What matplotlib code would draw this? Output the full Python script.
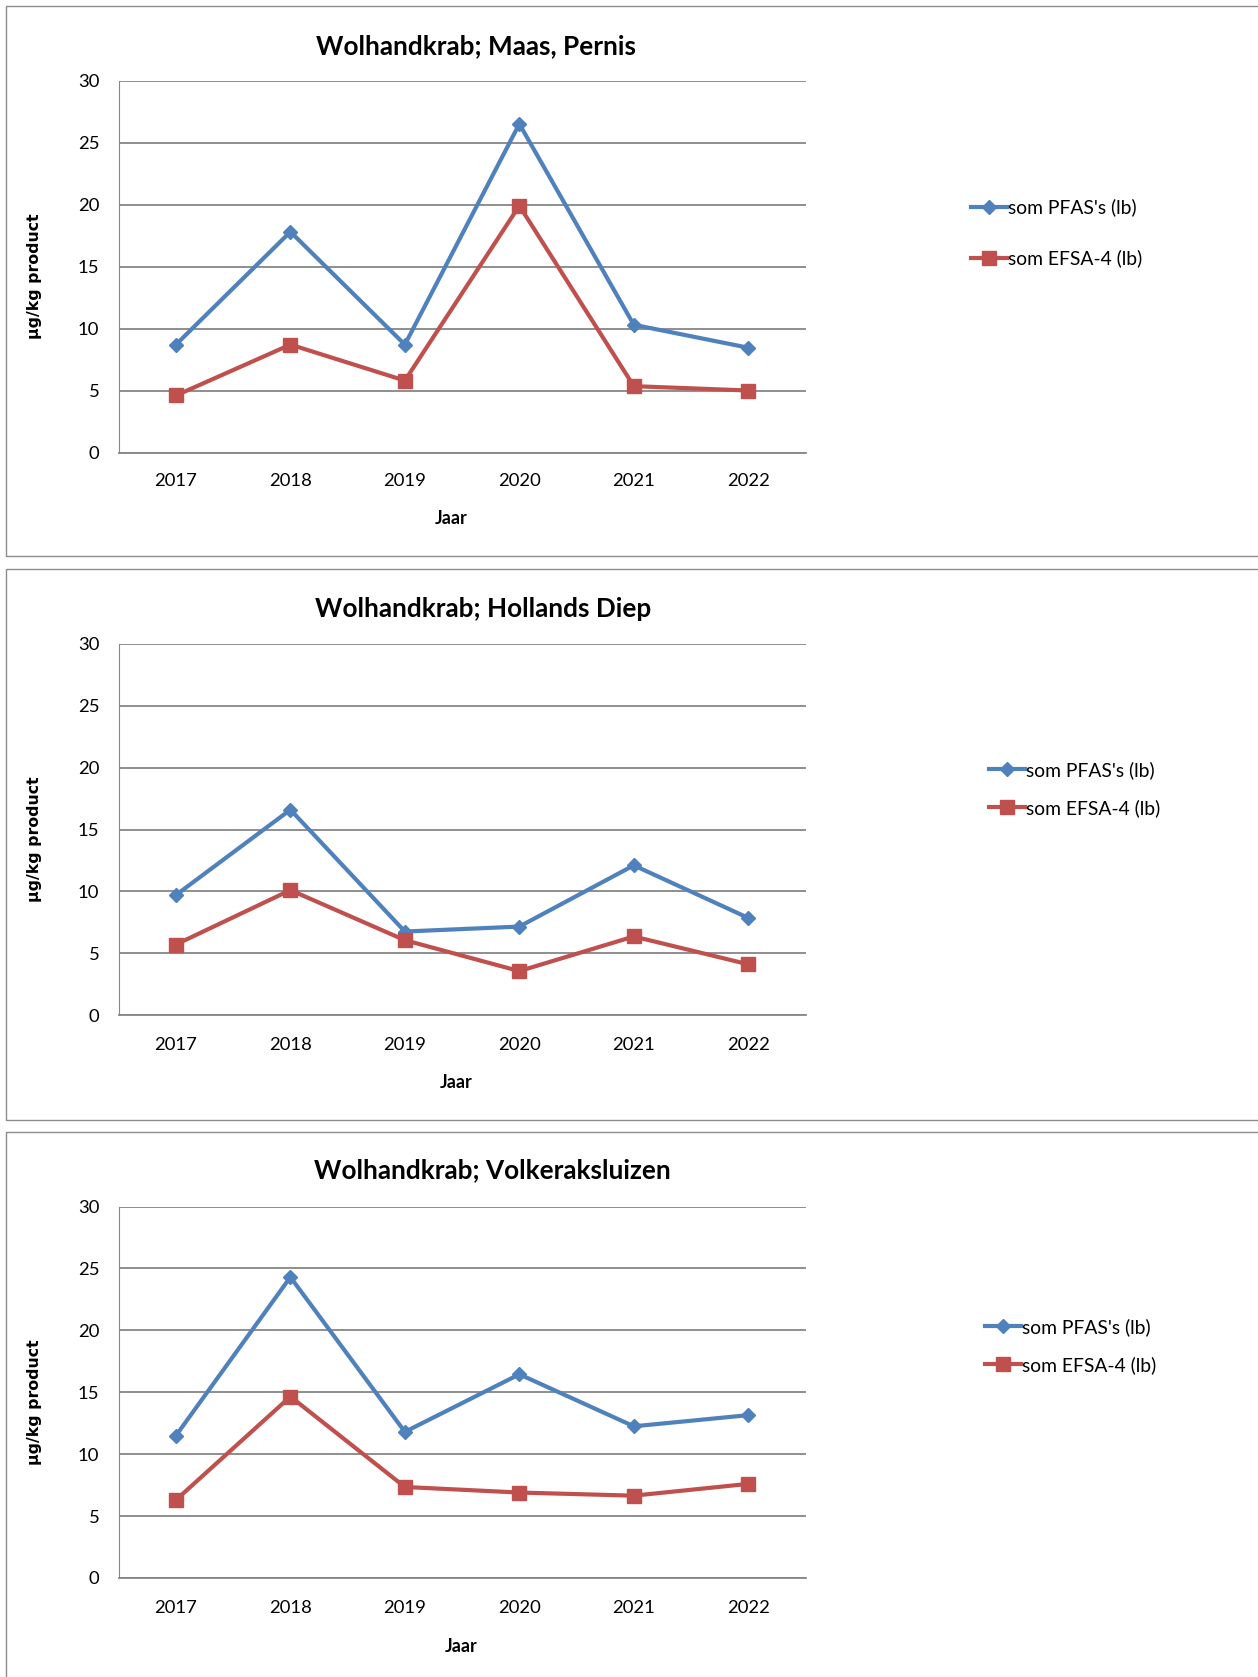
import matplotlib
matplotlib.use("Agg")
import matplotlib.pyplot as plt
from matplotlib.patches import Rectangle

# --- data --- #
years = ["2017", "2018", "2019", "2020", "2021", "2022"]

titles = ["Wolhandkrab; Maas, Pernis",
          "Wolhandkrab; Hollands Diep",
          "Wolhandkrab; Volkeraksluizen"]

pfas_pernis = [8.7, 17.8, 8.7, 26.5, 10.3, 8.45]
efsa_pernis = [4.6, 8.7, 5.8, 19.9, 5.35, 5.0]

pfas_hdiep = [9.7, 16.6, 6.75, 7.15, 12.1, 7.85]
efsa_hdiep = [5.7, 10.1, 6.05, 3.55, 6.35, 4.1]

pfas_volk = [11.5, 24.3, 11.8, 16.45, 12.25, 13.15]
efsa_volk = [6.3, 14.65, 7.35, 6.9, 6.65, 7.6]

series = [(pfas_pernis, efsa_pernis), (pfas_hdiep, efsa_hdiep), (pfas_volk, efsa_volk)]
labels = ["som PFAS's (lb)", "som EFSA-4 (lb)"]

BLUE = "#4F81BD"
RED = "#C0504D"
GRID = "#868686"

W, H = 1258, 1677
fig = plt.figure(figsize=(W / 100, H / 100), dpi=100)
fig.patch.set_facecolor("white")

# panel layout in pixels
panels = [
    dict(box=(6, 556), plot=(80.5, 452.5), title_y=46, title_x=476, tick_y=479, jaar=(451, 518),
         leg=(961, 233), spacing=1.7),
    dict(box=(569, 1120), plot=(644, 1015), title_y=609, title_x=483, tick_y=1042, jaar=(456, 1082),
         leg=(979, 789), spacing=1.05),
    dict(box=(1132, 1690), plot=(1206.5, 1578), title_y=1170, title_x=492, tick_y=1605, jaar=(461, 1647),
         leg=(975, 1346), spacing=1.05),
]

left, right = 118.7, 805.5

for p, title, (pfas, efsa) in zip(panels, titles, series):
    # outer panel border
    b0, b1 = p["box"]
    fig.patches.append(Rectangle((6 / W, 1 - b1 / H), 1.2, (b1 - b0) / H, transform=fig.transFigure,
                                 fill=False, edgecolor="#8c8c8c", linewidth=1.0, zorder=0))

    top, bot = p["plot"]
    ax = fig.add_axes([left / W, 1 - bot / H, (right - left) / W, (bot - top) / H])
    x = list(range(len(years)))
    ax.plot(x, pfas, color=BLUE, lw=3.0, marker="D", ms=7.5, label=labels[0], clip_on=False, zorder=3)
    ax.plot(x, efsa, color=RED, lw=3.0, marker="s", ms=9.5, label=labels[1], clip_on=False, zorder=3)

    ax.set_xlim(-0.5, 5.5)
    ax.set_ylim(0, 30)
    ax.set_yticks(range(0, 31, 5))
    ax.set_xticks(x)
    ax.set_xticklabels(years)
    ax.yaxis.grid(True, color=GRID, lw=1.3)
    ax.set_axisbelow(True)
    for s in ["top", "right"]:
        ax.spines[s].set_visible(False)
    ax.spines["left"].set_color(GRID)
    ax.spines["bottom"].set_color(GRID)
    ax.spines["bottom"].set_linewidth(1.3)
    ax.tick_params(axis="both", length=0, labelsize=13.3, colors="black", labelfontfamily="Lato")
    ax.tick_params(axis="x", pad=(p["tick_y"] - bot) - 11.5)
    ax.tick_params(axis="y", pad=14)

    fig.text(p["title_x"] / W, 1 - p["title_y"] / H, title, ha="center", va="center",
             fontsize=18.8, fontweight="bold", family="Lato")
    fig.text(p["jaar"][0] / W, 1 - p["jaar"][1] / H, "Jaar", ha="center", va="center",
             fontsize=13, fontweight="bold", family="Lato")
    fig.text(35 / W, 1 - ((top + bot) / 2 + 10) / H, "µg/kg product", ha="center", va="center",
             rotation=90, fontsize=11.3, fontweight="bold", family="DejaVu Sans")

    lx, ly = p["leg"]
    ax.legend(loc="center left", bbox_to_anchor=(lx / W, 1 - ly / H), bbox_transform=fig.transFigure,
              frameon=False, borderpad=0, handlelength=1.9, handletextpad=0.05,
              labelspacing=p["spacing"], prop=dict(family="Lato", size=13.9))

fig.savefig("out.png", dpi=100, facecolor="white")
